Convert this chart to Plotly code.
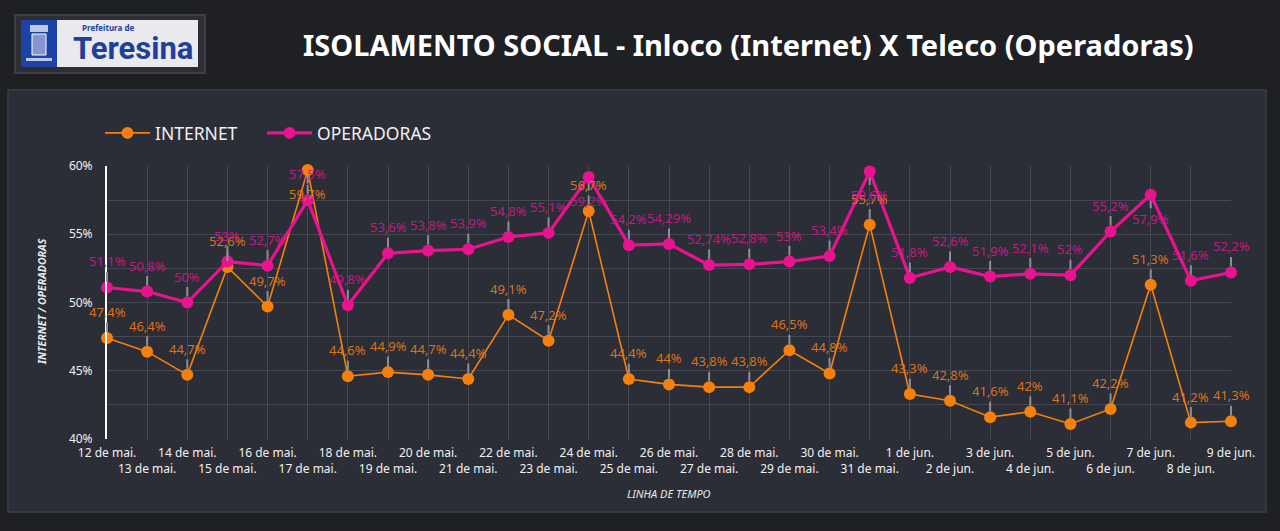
import plotly.graph_objects as go

# dados
dias = ["12 de mai.", "13 de mai.", "14 de mai.", "15 de mai.", "16 de mai.", "17 de mai.",
        "18 de mai.", "19 de mai.", "20 de mai.", "21 de mai.", "22 de mai.", "23 de mai.",
        "24 de mai.", "25 de mai.", "26 de mai.", "27 de mai.", "28 de mai.", "29 de mai.",
        "30 de mai.", "31 de mai.", "1 de jun.", "2 de jun.", "3 de jun.", "4 de jun.",
        "5 de jun.", "6 de jun.", "7 de jun.", "8 de jun.", "9 de jun."]
internet = [47.4, 46.4, 44.7, 52.6, 49.7, 59.7, 44.6, 44.9, 44.7, 44.4, 49.1, 47.2, 56.7, 44.4,
            44, 43.8, 43.8, 46.5, 44.8, 55.7, 43.3, 42.8, 41.6, 42, 41.1, 42.2, 51.3, 41.2, 41.3]
operadoras = [51.1, 50.8, 50, 53, 52.7, 57.5, 49.8, 53.6, 53.8, 53.9, 54.8, 55.1, 59.2, 54.2,
              54.29, 52.74, 52.8, 53, 53.4, 59.6, 51.8, 52.6, 51.9, 52.1, 52, 55.2, 57.9, 51.6, 52.2]
y_ticks = [40, 45, 50, 55, 60]

LARANJA = "#f5800e"
MAGENTA = "#e9138f"

W, H = 1280, 531
ML, MR, MT, MB = 107, 49, 166, 92
PW, PH = W - ML - MR, H - MT - MB


def px(x):
    return (x - ML) / PW


def py(y):
    return (H - MB - y) / PH


fig = go.Figure()
fig.add_trace(go.Scatter(x=dias, y=internet, name="INTERNET", mode="lines+markers",
                         line=dict(color=LARANJA, width=1.6),
                         marker=dict(color=LARANJA, size=12), cliponaxis=False))
fig.add_trace(go.Scatter(x=dias, y=operadoras, name="OPERADORAS", mode="lines+markers",
                         line=dict(color=MAGENTA, width=3.2), legend="legend2",
                         marker=dict(color=MAGENTA, size=12), cliponaxis=False))


def fmt(v):
    s = ("%g" % v).replace(".", ",")
    return s + "%"


anns = []
for serie, cor in ((internet, "rgba(228,122,22,0.95)"), (operadoras, "rgba(208,22,135,0.95)")):
    for d, v in zip(dias, serie):
        ay = 24 if v >= 57.7 else -26
        anns.append(dict(x=d, y=v, xref="x", yref="y", text=fmt(v), showarrow=True,
                         arrowhead=0, arrowwidth=2, arrowcolor="#8b8e95", ax=0, ay=ay,
                         standoff=6, font=dict(size=13, color=cor)))


def texto(t, x, y, size, color, **kw):
    d = dict(text=t, x=px(x), y=py(y), xref="paper", yref="paper", showarrow=False,
             xanchor="center", yanchor="middle", font=dict(size=size, color=color))
    d.update(kw)
    return d


# titulo e logo
anns.append(texto("<b>ISOLAMENTO SOCIAL - Inloco (Internet) X Teleco (Operadoras)</b>",
                  748, 44, 29, "white"))
anns.append(texto("<b>Prefeitura de</b>", 108, 27, 8, "#1e3f9a"))
anns.append(dict(texto("<b>Teresina</b>", 133, 49, 31, "#1e3f9a"),
                 font=dict(size=31, color="#1e3f9a", family="Roboto")))
anns.append(texto("<i>LINHA DE TEMPO</i>", 669, 493, 11, "#e8e8e8"))
anns.append(texto("<i><b>INTERNET / OPERADORAS</b></i>", 42, 302, 10.5, "#e8e8e8",
                  textangle=-90))

shapes = [
    dict(type="rect", xref="paper", yref="paper", x0=px(8), x1=px(1266), y0=py(512), y1=py(90),
         fillcolor="#2b2e37", line=dict(color="#3b3e46", width=1.5), layer="below"),
    dict(type="rect", xref="paper", yref="paper", x0=px(15), x1=px(205), y0=py(73), y1=py(15),
         fillcolor="#2c2e33", line=dict(color="#3c3f45", width=2), layer="below"),
    dict(type="rect", xref="paper", yref="paper", x0=px(21), x1=px(198), y0=py(67), y1=py(20),
         fillcolor="#e9e9ee", line=dict(width=0), layer="below"),
    dict(type="rect", xref="paper", yref="paper", x0=px(21), x1=px(57), y0=py(67), y1=py(20),
         fillcolor="#1e43a6", line=dict(width=0), layer="below"),
    dict(type="rect", xref="paper", yref="paper", x0=px(32), x1=px(46), y0=py(55), y1=py(34),
         fillcolor="rgba(255,255,255,0.45)", line=dict(color="white", width=1), layer="below"),
    dict(type="rect", xref="paper", yref="paper", x0=px(30), x1=px(48), y0=py(32), y1=py(25),
         fillcolor="rgba(255,255,255,0.7)", line=dict(width=0), layer="below"),
    dict(type="rect", xref="paper", yref="paper", x0=px(26), x1=px(52), y0=py(61), y1=py(58),
         fillcolor="rgba(255,255,255,0.7)", line=dict(width=0), layer="below"),
]

ticktext = [d if i % 2 == 0 else "<br>" + d for i, d in enumerate(dias)]

leg = dict(orientation="h", xanchor="left", yanchor="middle", y=py(133),
           font=dict(size=17.5, color="#f0f0f0"), bgcolor="rgba(0,0,0,0)", itemwidth=45)

fig.update_layout(
    width=W, height=H,
    margin=dict(l=ML, r=MR, t=MT, b=MB),
    paper_bgcolor="#1f2024", plot_bgcolor="#2b2e37",
    font=dict(family="Noto Sans", color="#e8e8e8"),
    showlegend=True,
    legend=dict(leg, x=px(100)),
    legend2=dict(leg, x=px(262)),
    annotations=anns, shapes=shapes,
    xaxis=dict(type="category", range=[0, 28], showgrid=True, gridcolor="#454851",
               gridwidth=1, tickvals=dias, ticktext=ticktext, tickangle=0,
               tickfont=dict(size=12, color="#f0f0f0"), ticks="", zeroline=False,
               showline=False, ticklabelstandoff=5),
    yaxis=dict(range=[40, 60], tickvals=y_ticks, ticktext=[f"{v}%" for v in y_ticks],
               showgrid=True, gridcolor="#454851", gridwidth=1,
               minor=dict(dtick=2.5, showgrid=True, gridcolor="#454851"),
               tickfont=dict(size=12, color="#f0f0f0"), showline=True, linecolor="white",
               linewidth=2, zeroline=False, ticks="", ticklabelstandoff=10),
)

fig.write_html("out.html", config={"displayModeBar": False},
               post_script="document.body.style.margin='0';")
